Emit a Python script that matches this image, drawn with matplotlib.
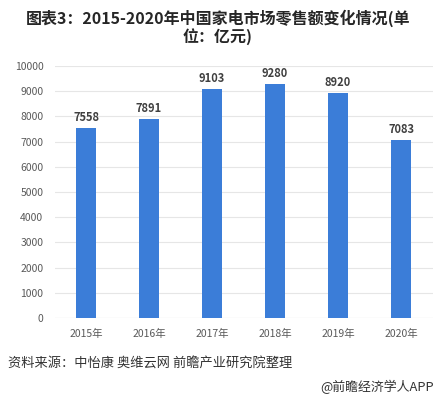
import matplotlib.pyplot as plt

plt.rcParams['font.family'] = ['Noto Sans CJK SC', 'DejaVu Sans']

years = ['2015年', '2016年', '2017年', '2018年', '2019年', '2020年']
sales = [7558, 7891, 9103, 9280, 8920, 7083]
yticks = [0, 1000, 2000, 3000, 4000, 5000, 6000, 7000, 8000, 9000, 10000]

W, H = 436, 399
fig = plt.figure(figsize=(W / 100, H / 100), dpi=100)
fig.patch.set_facecolor('white')

# axes placed in pixel coords: x 54.5..432.5, y 66..318 (from top)
ax = fig.add_axes([54.5 / W, 1 - 318 / H, 378 / W, 252 / H])
x = list(range(len(years)))
ax.bar(x, sales, width=0.32, color='#3b7dd8', zorder=3)
for xi, v in zip(x, sales):
    ax.text(xi, v + 150, str(v), ha='center', va='bottom',
            fontsize=8, color='#404040', fontweight='bold')

ax.set_xlim(-0.5, len(years) - 0.5)
ax.set_ylim(0, 10000)
ax.set_yticks(yticks)
ax.set_yticklabels([str(t) for t in yticks], fontsize=7.5, color='#595959',
                   fontweight='medium')
ax.set_xticks(x)
ax.set_xticklabels(years, fontsize=7.5, color='#595959', fontweight='medium')
ax.grid(axis='y', color='#e6e6e6', lw=0.8, zorder=0)
ax.tick_params(length=0, pad=8)
for s in ax.spines.values():
    s.set_visible(False)
ax.axhline(0, color='#d9d9d9', lw=0.8, zorder=2)

fig.text(0.5, 1 - 18 / H, '图表3：2015-2020年中国家电市场零售额变化情况(单',
         ha='center', va='center', fontsize=11.5, fontweight='bold', color='#262626')
fig.text(0.5, 1 - 37 / H, '位：亿元)',
         ha='center', va='center', fontsize=11.5, fontweight='bold', color='#262626')

fig.text(8 / W, 1 - 364 / H, '资料来源：中怡康 奥维云网 前瞻产业研究院整理',
         ha='left', va='center', fontsize=9.5, color='#333333')
fig.text(434 / W, 1 - 387 / H, '@前瞻经济学人APP',
         ha='right', va='center', fontsize=9.3, color='#333333')

fig.savefig('out.png', dpi=100, facecolor='white')
